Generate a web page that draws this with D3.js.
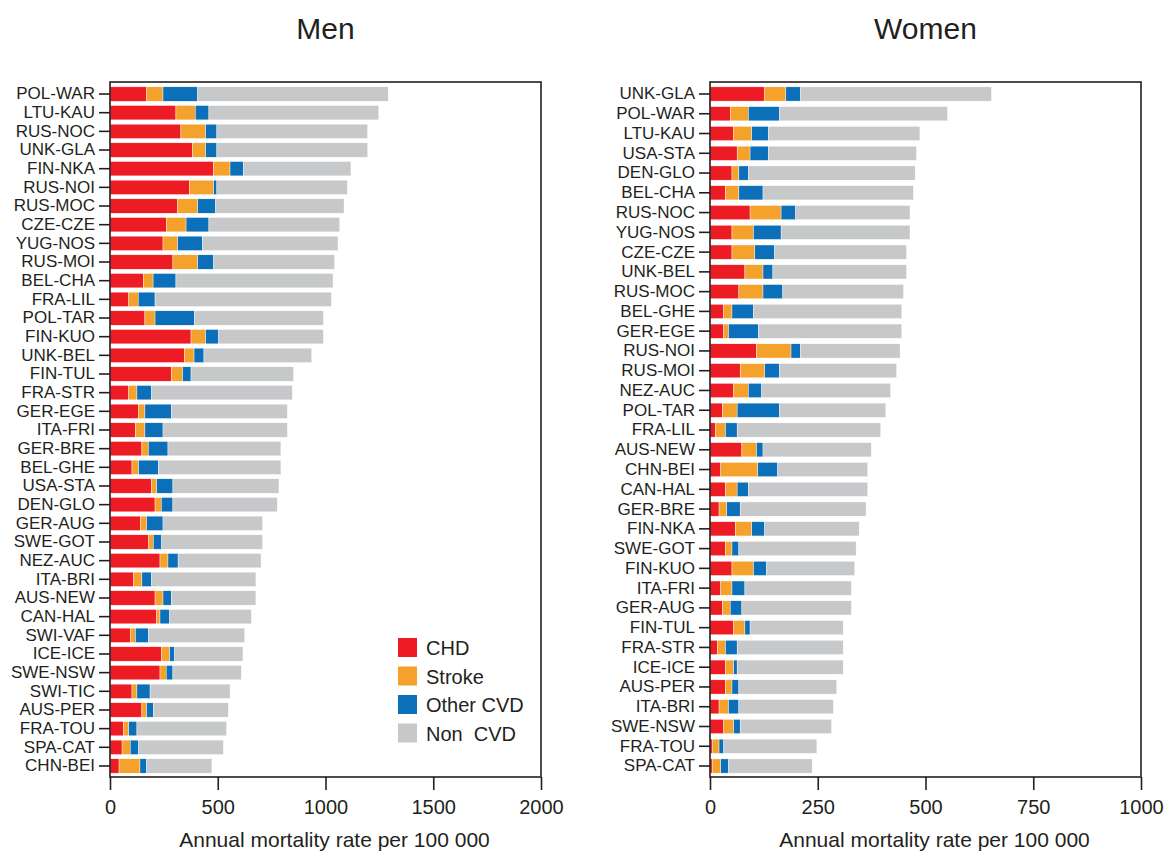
<!DOCTYPE html>
<html>
<head>
<meta charset="utf-8">
<script src="https://cdn.jsdelivr.net/npm/d3@7"></script>
<style>
  body { margin: 0; background: #fff; }
  text { font-family: "Liberation Sans", Arial, Helvetica, sans-serif; fill: #231f20; }
</style>
</head>
<body>
<svg id="chart" width="1167" height="852"></svg>
<script>
// ---------- DATA ----------
const seriesKeys = ["CHD", "Stroke", "Other CVD", "Non  CVD"];
const seriesColors = ["#ed1c24", "#f5a22c", "#0b70b9", "#c7c8ca"];

const menCategories = ["POL-WAR","LTU-KAU","RUS-NOC","UNK-GLA","FIN-NKA","RUS-NOI","RUS-MOC","CZE-CZE","YUG-NOS","RUS-MOI","BEL-CHA","FRA-LIL","POL-TAR","FIN-KUO","UNK-BEL","FIN-TUL","FRA-STR","GER-EGE","ITA-FRI","GER-BRE","BEL-GHE","USA-STA","DEN-GLO","GER-AUG","SWE-GOT","NEZ-AUC","ITA-BRI","AUS-NEW","CAN-HAL","SWI-VAF","ICE-ICE","SWE-NSW","SWI-TIC","AUS-PER","FRA-TOU","SPA-CAT","CHN-BEI"];
const menCHD    = [170,306,329,382,481,368,314,261,246,292,155,87,162,376,345,285,87,131,118,148,102,193,209,141,178,232,110,209,217,94,238,232,102,148,63,56,42];
const menStroke = [76,90,115,62,76,113,93,92,68,115,45,44,47,68,45,52,38,31,44,30,31,24,29,29,23,37,38,37,15,24,39,29,23,22,24,38,97];
const menOther  = [161,63,52,52,62,15,83,106,114,74,106,78,182,60,46,39,68,123,84,91,91,75,54,76,39,47,45,39,45,60,23,31,61,31,38,39,31];
const menNon    = [884,788,699,700,499,605,596,607,630,561,729,818,599,486,500,476,653,538,577,524,569,492,484,462,468,385,484,392,379,447,317,317,371,348,416,393,303];

const womenCategories = ["UNK-GLA","POL-WAR","LTU-KAU","USA-STA","DEN-GLO","BEL-CHA","RUS-NOC","YUG-NOS","CZE-CZE","UNK-BEL","RUS-MOC","BEL-GHE","GER-EGE","RUS-NOI","RUS-MOI","NEZ-AUC","POL-TAR","FRA-LIL","AUS-NEW","CHN-BEI","CAN-HAL","GER-BRE","FIN-NKA","SWE-GOT","FIN-KUO","ITA-FRI","GER-AUG","FIN-TUL","FRA-STR","ICE-ICE","AUS-PER","ITA-BRI","SWE-NSW","FRA-TOU","SPA-CAT"];
const womenCHD    = [127,47,55,63,51,36,93,51,51,81,67,32,32,108,70,55,29,13,74,25,36,21,59,36,51,25,29,55,17,36,36,21,32,5,5];
const womenStroke = [49,42,42,30,16,31,72,50,53,42,56,19,11,80,57,34,34,23,34,86,27,18,38,15,50,26,18,26,19,19,15,22,23,16,20];
const womenOther  = [34,72,38,42,22,56,34,64,46,23,46,50,69,22,34,31,98,27,15,46,26,31,30,16,30,30,27,12,27,8,16,24,15,11,18];
const womenNon    = [443,390,352,344,387,349,265,299,306,310,280,344,333,231,272,299,247,333,251,209,277,292,219,272,205,247,254,216,246,246,227,219,212,216,194];

const menTicks = [0, 500, 1000, 1500, 2000];
const womenTicks = [0, 250, 500, 750, 1000];
const axisTitle = "Annual mortality rate per 100 000";

// ---------- DRAW ----------
const svg = d3.select("#chart");
const plotTop = 82, plotBottom = 777;

function panel(opts) {
  const { title, cats, values, xMax, ticks, x0, x1, yRange, padInner, legend } = opts;
  const rows = cats.map((c, i) => {
    const r = { cat: c };
    seriesKeys.forEach((k, j) => r[k] = values[j][i]);
    return r;
  });
  const x = d3.scaleLinear().domain([0, xMax]).range([x0, x1]);
  const y = d3.scaleBand().domain(cats).range(yRange)
    .paddingInner(padInner).paddingOuter(padInner / 2);
  const stack = d3.stack().keys(seriesKeys)(rows);
  const color = d3.scaleOrdinal().domain(seriesKeys).range(seriesColors);

  const g = svg.append("g");
  g.selectAll("g.series").data(stack).join("g")
    .attr("fill", d => color(d.key))
    .selectAll("rect").data(d => d).join("rect")
    .attr("x", d => x(d[0]))
    .attr("width", d => Math.max(0, x(d[1]) - x(d[0])))
    .attr("y", d => y(d.data.cat))
    .attr("height", y.bandwidth())
    .attr("stroke", "#ffffff").attr("stroke-width", 0.4);

  // frame
  g.append("rect").attr("x", x0).attr("y", plotTop).attr("width", x1 - x0).attr("height", plotBottom - plotTop)
    .attr("fill", "none").attr("stroke", "#231f20").attr("stroke-width", 1.6);

  // y axis
  const ya = g.append("g").attr("transform", `translate(${x0},0)`)
    .call(d3.axisLeft(y).tickSize(11).tickPadding(4));
  ya.select(".domain").remove();
  ya.selectAll(".tick line").attr("stroke", "#231f20").attr("stroke-width", 1.6);
  ya.selectAll(".tick text").style("font-size", "17px").attr("fill", "#231f20")
    .style("font-family", '"Liberation Sans", Arial, sans-serif');

  // x axis
  const xa = g.append("g").attr("transform", `translate(0,${plotBottom})`)
    .call(d3.axisBottom(x).tickValues(ticks).tickFormat(d3.format("d")).tickSize(13).tickPadding(10));
  xa.select(".domain").remove();
  xa.selectAll(".tick line").attr("stroke", "#231f20").attr("stroke-width", 1.6);
  xa.selectAll(".tick text").style("font-size", "20px").attr("fill", "#231f20")
    .style("font-family", '"Liberation Sans", Arial, sans-serif');

  // titles
  g.append("text").attr("x", (x0 + x1) / 2).attr("y", 39).attr("text-anchor", "middle")
    .style("font-size", "30px").text(title);
  g.append("text").attr("x", (x0 + x1) / 2 + 9).attr("y", 847).attr("text-anchor", "middle")
    .style("font-size", "21px").text(axisTitle);

  if (legend) {
    const lg = g.append("g");
    seriesKeys.forEach((k, i) => {
      const cy = 648 + i * 28.5;
      lg.append("rect").attr("x", 398).attr("y", cy - 10).attr("width", 19).attr("height", 19)
        .attr("fill", seriesColors[i]);
      lg.append("text").attr("x", 426).attr("y", cy + 7).style("font-size", "20px")
        .style("white-space", "pre").attr("xml:space", "preserve").text(k);
    });
  }
}

panel({ title: "Men", cats: menCategories, values: [menCHD, menStroke, menOther, menNon],
  xMax: 2000, ticks: menTicks, x0: 110, x1: 541, yRange: [84.7, 775.3], padInner: 0.23, legend: true });
panel({ title: "Women", cats: womenCategories, values: [womenCHD, womenStroke, womenOther, womenNon],
  xMax: 1000, ticks: womenTicks, x0: 710, x1: 1141, yRange: [84.1, 775.9], padInner: 0.28, legend: false });
</script>
</body>
</html>
